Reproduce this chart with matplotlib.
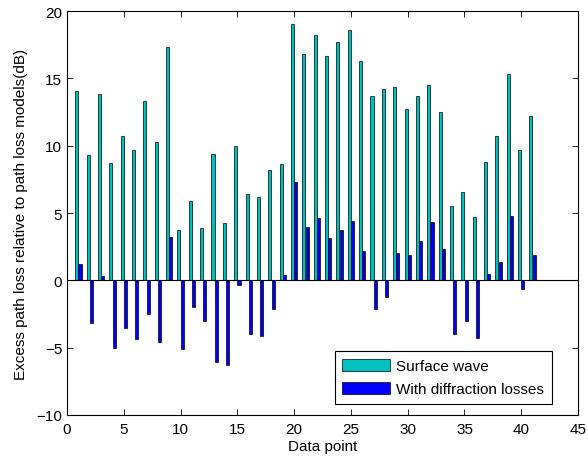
import numpy as np
import matplotlib
matplotlib.use("Agg")
import matplotlib.pyplot as plt

plt.rcParams['font.family'] = ['Liberation Sans', 'DejaVu Sans']

points = list(range(1, 42))
surface_wave = [14.05, 9.28, 13.86, 8.74, 10.71, 9.67, 13.29, 10.3, 17.32, 3.73,
                5.89, 3.91, 9.4, 4.25, 10.0, 6.38, 6.19, 8.17, 8.66, 19.06,
                16.83, 18.19, 16.7, 17.69, 18.6, 16.26, 13.68, 14.23, 14.33, 12.75,
                13.73, 14.5, 12.5, 5.55, 6.56, 4.67, 8.76, 10.75, 15.3, 9.7, 12.2]
diffraction = [1.24, -3.14, 0.3, -5.02, -3.51, -4.36, -2.5, -4.55, 3.21, -5.1,
               -1.98, -3.02, -6.09, -6.26, -0.37, -3.96, -4.16, -2.15, 0.37, 7.28,
               3.93, 4.6, 3.12, 3.73, 4.43, 2.18, -2.1, -1.24, 2.05, 1.88,
               2.9, 4.3, 2.3, -4.0, -3.0, -4.3, 0.47, 1.36, 4.8, -0.67, 1.85]

fig = plt.figure(figsize=(5.88, 4.60), dpi=100)
ax = fig.add_axes([0.114, 0.0957, 0.869, 0.878])

x = np.array(points)
w = 0.27
ax.bar(x - 0.143, surface_wave, w, color='#00bfbf', edgecolor='black', linewidth=0.5,
       label='Surface wave', zorder=2)
ax.bar(x + 0.143, diffraction, w, color='#0000ff', edgecolor='black', linewidth=0.5,
       label='With diffraction losses', zorder=2)
ax.axhline(0, color='black', linewidth=0.8, zorder=3)

ax.set_xlim(0, 45)
ax.set_ylim(-10, 20)
ax.set_xticks(range(0, 46, 5))
ax.set_yticks(range(-10, 21, 5))
ax.tick_params(direction='in', top=True, right=True, labelsize=11, length=4, width=0.6)
ax.tick_params(axis='x', pad=5)
for s in ax.spines.values():
    s.set_linewidth(0.8)

ax.set_xlabel('Data point', fontsize=11, labelpad=2)
ax.set_ylabel('Excess path loss relative to path loss models(dB)', fontsize=11, labelpad=6)

leg = ax.legend(loc='lower right', bbox_to_anchor=(0.949, 0.027), borderaxespad=0,
                fontsize=11, fancybox=False, framealpha=1, edgecolor='black',
                handlelength=3.1, handleheight=0.85, borderpad=0.5, labelspacing=0.6,
                handletextpad=0.45)
leg.get_frame().set_linewidth(0.8)

fig.savefig('out.png', dpi=100)
